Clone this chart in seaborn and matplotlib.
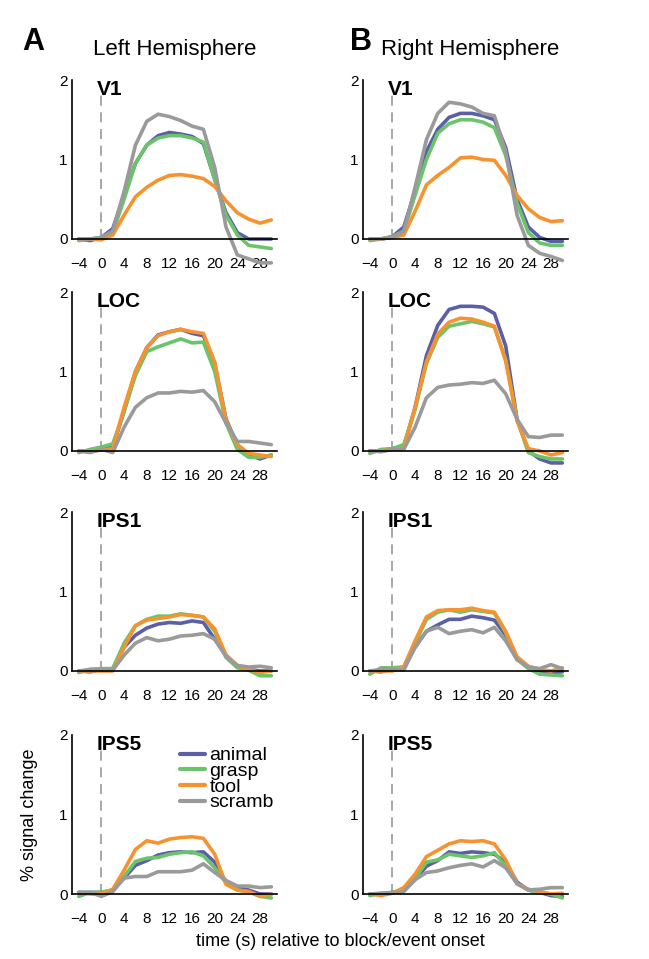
import numpy as np
import pandas as pd
import matplotlib
matplotlib.use("Agg")
import matplotlib.pyplot as plt
import seaborn as sns
from matplotlib.lines import Line2D

sns.set_style("white")
plt.rcParams['font.family'] = ['Liberation Sans', 'DejaVu Sans']
plt.rcParams['text.color'] = 'black'
plt.rcParams['xtick.color'] = 'black'
plt.rcParams['ytick.color'] = 'black'

time = list(range(-4, 31, 2))
conditions = ["animal", "grasp", "tool", "scramb"]
colors = {"animal": "#5a5fa8", "grasp": "#6cc46a", "tool": "#f7932f", "scramb": "#9a9a9a"}

left_V1 = {
    "animal": [0,-0.02,0.02,0.13,0.55,0.95,1.18,1.3,1.34,1.32,1.29,1.2,0.75,0.33,0.08,0,0,0],
    "grasp": [-0.02,0,0.02,0.08,0.5,0.95,1.18,1.27,1.3,1.3,1.27,1.22,0.75,0.3,0.05,-0.08,-0.1,-0.12],
    "tool": [0,0,-0.01,0.05,0.3,0.53,0.65,0.74,0.8,0.81,0.79,0.76,0.66,0.48,0.33,0.25,0.2,0.24],
    "scramb": [0,0,0.02,0.1,0.6,1.18,1.48,1.57,1.54,1.49,1.42,1.38,0.9,0.15,-0.2,-0.25,-0.3,-0.3],
}
right_V1 = {
    "animal": [0,0,0.03,0.15,0.6,1.1,1.38,1.53,1.58,1.58,1.55,1.5,1.15,0.5,0.15,0.02,-0.03,-0.03],
    "grasp": [-0.02,0,0.03,0.1,0.55,1.0,1.33,1.45,1.5,1.5,1.47,1.4,1.05,0.45,0.08,-0.05,-0.08,-0.08],
    "tool": [0,0,0.02,0.05,0.35,0.68,0.8,0.9,1.02,1.03,1.0,0.99,0.8,0.55,0.38,0.27,0.22,0.23],
    "scramb": [0,0,0.02,0.1,0.65,1.25,1.58,1.72,1.7,1.66,1.58,1.55,1.1,0.3,-0.08,-0.18,-0.22,-0.27],
}
left_LOC = {
    "animal": [0,0,0.02,0.05,0.5,1.0,1.3,1.46,1.5,1.53,1.48,1.45,1.1,0.4,0.08,-0.05,-0.1,-0.05],
    "grasp": [-0.02,0.02,0.05,0.09,0.5,0.95,1.25,1.31,1.36,1.41,1.36,1.37,1.0,0.35,0.02,-0.08,-0.08,-0.05],
    "tool": [0,0,0.01,0.03,0.55,1.0,1.3,1.45,1.5,1.53,1.5,1.48,1.12,0.38,0.08,-0.03,-0.05,-0.07],
    "scramb": [0,-0.02,0.02,-0.02,0.3,0.55,0.67,0.73,0.73,0.75,0.74,0.76,0.62,0.35,0.12,0.12,0.1,0.08],
}
right_LOC = {
    "animal": [0,0,0.03,0.05,0.55,1.2,1.58,1.78,1.82,1.82,1.81,1.73,1.32,0.4,0,-0.1,-0.15,-0.15],
    "grasp": [-0.03,0.02,0.03,0.08,0.52,1.1,1.43,1.57,1.6,1.63,1.6,1.56,1.15,0.4,-0.02,-0.07,-0.1,-0.1],
    "tool": [0,0,0.02,0.03,0.55,1.12,1.47,1.62,1.67,1.66,1.62,1.57,1.13,0.38,0.03,0,-0.05,-0.02],
    "scramb": [0,-0.01,0.02,0.02,0.3,0.67,0.8,0.83,0.84,0.86,0.85,0.89,0.72,0.4,0.18,0.17,0.2,0.2],
}
left_IPS1 = {
    "animal": [0,-0.01,0.02,0.03,0.3,0.45,0.54,0.59,0.61,0.6,0.63,0.61,0.4,0.2,0.05,0.02,0,0],
    "grasp": [-0.02,0.02,0.03,0.03,0.35,0.57,0.65,0.69,0.69,0.72,0.7,0.68,0.5,0.17,0.04,0.01,-0.06,-0.06],
    "tool": [0,0,0,0,0.3,0.57,0.64,0.66,0.68,0.71,0.7,0.68,0.53,0.2,0.07,0.02,-0.02,0],
    "scramb": [0,0.02,0.02,0.01,0.2,0.35,0.42,0.38,0.4,0.44,0.45,0.47,0.4,0.18,0.07,0.05,0.06,0.04],
}
right_IPS1 = {
    "animal": [0,-0.01,0.02,0.05,0.3,0.5,0.58,0.65,0.65,0.69,0.67,0.64,0.45,0.15,0.05,0,-0.02,-0.01],
    "grasp": [-0.04,0.04,0.04,0.05,0.35,0.65,0.74,0.77,0.74,0.77,0.75,0.73,0.48,0.15,0.03,-0.04,-0.05,-0.06],
    "tool": [0,0,0,0.05,0.38,0.68,0.76,0.77,0.77,0.79,0.76,0.74,0.5,0.18,0.06,0.02,0,0.04],
    "scramb": [0,0.02,0.02,0.01,0.3,0.5,0.55,0.47,0.5,0.52,0.48,0.55,0.38,0.14,0.05,0.03,0.08,0.03],
}
left_IPS5 = {
    "animal": [0.02,0.02,0.02,0.05,0.2,0.36,0.42,0.49,0.52,0.53,0.52,0.53,0.4,0.15,0.08,0.05,0,0],
    "grasp": [-0.03,0.02,0.02,0.05,0.22,0.41,0.45,0.46,0.5,0.52,0.53,0.48,0.33,0.14,0.05,0.03,-0.03,-0.05],
    "tool": [0.02,0,0,0.06,0.3,0.56,0.67,0.64,0.69,0.71,0.72,0.7,0.5,0.12,0.05,0.03,-0.03,0],
    "scramb": [0.02,0.02,-0.03,0.03,0.2,0.22,0.22,0.28,0.28,0.28,0.3,0.38,0.27,0.17,0.1,0.1,0.08,0.09],
}
right_IPS5 = {
    "animal": [0,0,0.02,0.05,0.18,0.35,0.42,0.53,0.51,0.53,0.52,0.5,0.4,0.15,0.05,0.02,-0.02,-0.03],
    "grasp": [-0.02,0.01,0.02,0.05,0.2,0.4,0.43,0.5,0.48,0.46,0.48,0.52,0.35,0.13,0.05,0.02,0,-0.05],
    "tool": [0,-0.02,0.01,0.08,0.25,0.47,0.55,0.63,0.67,0.66,0.67,0.63,0.43,0.13,0.06,0.03,0,0.01],
    "scramb": [0,0.01,0.01,0.03,0.18,0.27,0.29,0.33,0.36,0.38,0.34,0.42,0.33,0.13,0.05,0.06,0.08,0.08],
}

rois = ["V1", "LOC", "IPS1", "IPS5"]
panels = {("L", "V1"): left_V1, ("R", "V1"): right_V1,
          ("L", "LOC"): left_LOC, ("R", "LOC"): right_LOC,
          ("L", "IPS1"): left_IPS1, ("R", "IPS1"): right_IPS1,
          ("L", "IPS5"): left_IPS5, ("R", "IPS5"): right_IPS5}

W, H = 649, 959
fig = plt.figure(figsize=(W/100, H/100), dpi=100)
col_x = {"L": 72, "R": 363}
row_top = [80, 292, 512, 735]
unit = 79.5
ymin = -0.35
aw = 205

for ri, roi in enumerate(rois):
    for side in ["L", "R"]:
        top = row_top[ri]
        bottom = top + (2 - ymin) * unit
        ax = fig.add_axes([col_x[side]/W, 1 - bottom/H, aw/W, (bottom-top)/H])
        ax.patch.set_alpha(0)
        d = panels[(side, roi)]
        df = pd.DataFrame([(t, c, v) for c in conditions for t, v in zip(time, d[c])],
                          columns=["time", "cond", "val"])
        sns.lineplot(data=df, x="time", y="val", hue="cond", hue_order=conditions,
                     palette=colors, linewidth=2.6, ax=ax, legend=False)
        ax.plot([0, 0], [0, 1.85], ls=(0, (6, 4)), color="#999999", lw=1.2, zorder=0)
        ax.set_xlim(-5.2, 31)
        ax.set_ylim(ymin, 2.0)
        ax.spines["top"].set_visible(False)
        ax.spines["right"].set_visible(False)
        ax.spines["bottom"].set_position(("data", 0))
        ax.spines["left"].set_bounds(0, 2)
        for s in ["left", "bottom"]:
            ax.spines[s].set_linewidth(1.2)
            ax.spines[s].set_color("black")
        ax.set_xticks(range(-4, 29, 4))
        ax.set_xticklabels(["\u22124" if t == -4 else str(t) for t in range(-4, 29, 4)])
        ax.set_yticks([0, 0.5, 1, 1.5, 2])
        ax.set_yticklabels(["0", "", "1", "", "2"])
        ax.tick_params(direction="in", length=3, labelsize=11, pad=3, colors="black")
        ax.tick_params(axis="x", pad=13)
        ax.set_xlabel("")
        ax.set_ylabel("")
        ax.text(0.12, (1.88 - ymin) / (2 - ymin), roi, transform=ax.transAxes, fontsize=15,
                fontweight="bold", va="center", ha="left", color="black")
        if side == "L" and roi == "IPS5":
            handles = [Line2D([], [], color=colors[c], lw=3) for c in conditions]
            ax.legend(handles, conditions, loc="upper right", bbox_to_anchor=(1.05, 1.01),
                      frameon=False, fontsize=14, handlelength=1.3, handletextpad=0.2,
                      labelspacing=-0.1, borderpad=0.2)

fig.text(22/W, 1 - 42/H, "A", fontsize=22, fontweight="bold", va="center")
fig.text(350/W, 1 - 42/H, "B", fontsize=22, fontweight="bold", va="center")
fig.text(175/W, 1 - 50/H, "Left Hemisphere", fontsize=16, ha="center", va="center")
fig.text(470/W, 1 - 50/H, "Right Hemisphere", fontsize=16, ha="center", va="center")
fig.text(30/W, 1 - 815/H, "% signal change", fontsize=13, rotation=90, ha="center", va="center")
fig.text(340/W, 1 - 942/H, "time (s) relative to block/event onset", fontsize=13,
         ha="center", va="center")

fig.savefig("out.png", dpi=100)
